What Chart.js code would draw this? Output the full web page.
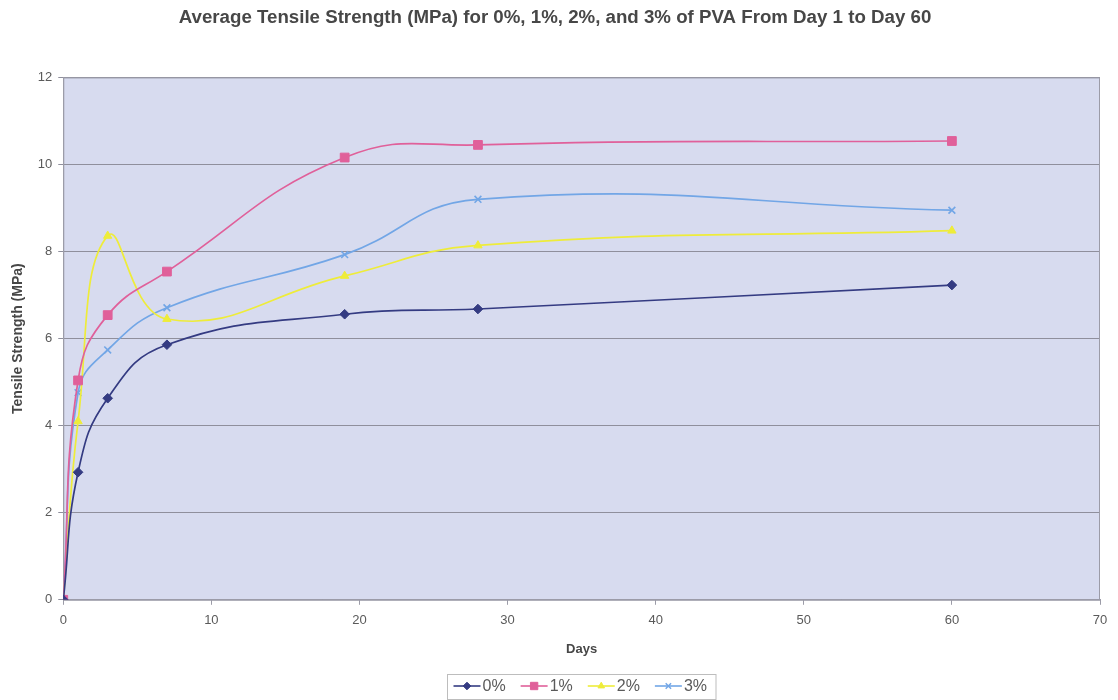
<!DOCTYPE html>
<html>
<head>
<meta charset="utf-8">
<title>Average Tensile Strength</title>
<script src="https://cdn.jsdelivr.net/npm/chart.js@4/dist/chart.umd.min.js"></script>
<style>
  html, body { margin: 0; padding: 0; background: #ffffff; }
  #wrap { width: 1118px; height: 700px; position: relative; }
</style>
</head>
<body>
<div id="wrap"><canvas id="chart" width="1118" height="700"></canvas></div>
<script>
// Curing age of the specimens, in days
const days = [0, 1, 3, 7, 19, 28, 60];

// Average tensile strength (MPa) for each PVA content
const pva0 = [0, 2.93, 4.63, 5.86, 6.56, 6.68, 7.23];
const pva1 = [0, 5.04, 6.54, 7.54, 10.16, 10.45, 10.54];
const pva2 = [0, 4.10, 8.36, 6.45, 7.44, 8.14, 8.48];
const pva3 = [0, 4.76, 5.74, 6.71, 7.93, 9.20, 8.95];

const seriesNames = ['0%', '1%', '2%', '3%'];
const xTicks = [0, 10, 20, 30, 40, 50, 60, 70];
const yTicks = [0, 2, 4, 6, 8, 10, 12];

const FONT = '"Liberation Sans", Arial, sans-serif';

const styles = [
  { color: '#343b82', point: 'rectRot', radius: 4.8 },
  { color: '#e0609a', point: 'rect', radius: 6.2 },
  { color: '#eeec3a', point: 'triangle', radius: 4.8 },
  { color: '#72a6e6', point: 'crossRot', radius: 4.8 }
];

function toPoints(vals) {
  return days.map((d, i) => ({ x: d, y: vals[i] }));
}

const datasets = [pva0, pva1, pva2, pva3].map((vals, i) => ({
  label: seriesNames[i],
  data: toPoints(vals),
  showLine: true,
  borderColor: styles[i].color,
  backgroundColor: styles[i].color,
  borderWidth: 1.7,
  pointStyle: styles[i].point,
  pointRadius: styles[i].radius,
  pointBorderWidth: styles[i].point === 'crossRot' ? 1.6 : 1,
  tension: 0.45,
  cubicInterpolationMode: 'default'
}));

// Lavender plot background and grey frame around the plot area
const plotFrame = {
  id: 'plotFrame',
  beforeDraw(chart) {
    const { ctx, chartArea: a } = chart;
    ctx.save();
    ctx.fillStyle = '#d7dbef';
    ctx.fillRect(a.left, a.top, a.right - a.left, a.bottom - a.top);
    ctx.restore();
  },
  beforeDatasetsDraw(chart) {
    const { ctx, chartArea: a } = chart;
    ctx.save();
    ctx.strokeStyle = '#9c9ca8';
    ctx.lineWidth = 1;
    ctx.strokeRect(a.left + 0.5, a.top + 0.5, a.right - a.left - 1, a.bottom - a.top);
    ctx.restore();
  }
};

// Boxed legend under the axis title: line segment with its marker, then the label
const boxedLegend = {
  id: 'boxedLegend',
  afterDraw(chart) {
    const { ctx } = chart;
    const font = '16px ' + FONT;
    ctx.save();
    ctx.font = font;
    const sampleW = 27, gap = 2, itemGap = 15, padL = 6, padR = 9;
    const widths = seriesNames.map(n => sampleW + gap + ctx.measureText(n).width);
    const total = widths.reduce((s, w) => s + w, 0) + itemGap * (seriesNames.length - 1);
    const boxW = total + padL + padR, boxH = 25;
    const cx = 581, cy = 686;
    const bx = Math.round(cx - boxW / 2) + 0.5, by = Math.round(cy - boxH / 2) + 0.5;
    ctx.strokeStyle = '#bdbdbd';
    ctx.lineWidth = 1;
    ctx.strokeRect(bx, by, boxW, boxH);
    let x = bx + padL;
    chart.data.datasets.forEach((ds, i) => {
      const st = styles[i];
      ctx.strokeStyle = st.color;
      ctx.fillStyle = st.color;
      ctx.lineWidth = 1.6;
      ctx.beginPath();
      ctx.moveTo(x, cy);
      ctx.lineTo(x + sampleW, cy);
      ctx.stroke();
      ctx.lineWidth = st.point === 'crossRot' ? 1.5 : 1;
      Chart.helpers.drawPoint(ctx, {
        pointStyle: st.point,
        radius: st.radius - 1,
        rotation: 0,
        borderWidth: ctx.lineWidth
      }, x + sampleW / 2, cy);
      ctx.fillStyle = '#5a5a5a';
      ctx.textBaseline = 'middle';
      ctx.textAlign = 'left';
      ctx.font = font;
      ctx.fillText(ds.label, x + sampleW + gap, cy + 1);
      x += widths[i] + itemGap;
    });
    ctx.restore();
  }
};

new Chart(document.getElementById('chart'), {
  type: 'scatter',
  data: { datasets },
  plugins: [plotFrame, boxedLegend],
  options: {
    responsive: false,
    animation: false,
    layout: { padding: { left: 10, right: 18, top: 4, bottom: 43 } },
    plugins: {
      legend: { display: false },
      tooltip: { enabled: false },
      title: {
        display: true,
        text: 'Average Tensile Strength (MPa) for 0%, 1%, 2%, and 3% of PVA From Day 1 to Day 60',
        color: '#474747',
        font: { family: FONT, size: 18.7, weight: 'bold' },
        padding: { top: 3, bottom: 48 }
      }
    },
    scales: {
      x: {
        type: 'linear',
        min: 0,
        max: 70,
        afterBuildTicks(axis) { axis.ticks = xTicks.map(v => ({ value: v })); },
        ticks: {
          color: '#5a5a5a',
          font: { family: FONT, size: 13 },
          padding: 8,
          maxRotation: 0
        },
        grid: { drawOnChartArea: false, color: '#9c9ca8', tickLength: 5 },
        border: { color: '#9c9ca8' },
        title: {
          display: true,
          text: 'Days',
          color: '#474747',
          font: { family: FONT, size: 13, weight: 'bold' },
          padding: { top: 5, bottom: 0 }
        }
      },
      y: {
        min: 0,
        max: 12,
        afterBuildTicks(axis) { axis.ticks = yTicks.map(v => ({ value: v })); },
        ticks: {
          color: '#5a5a5a',
          font: { family: FONT, size: 13 },
          padding: 6
        },
        grid: { color: '#8f8f9c', lineWidth: 1, tickLength: 5 },
        border: { color: '#9c9ca8' },
        title: {
          display: true,
          text: 'Tensile Strength (MPa)',
          color: '#474747',
          font: { family: FONT, size: 14, weight: 'bold' },
          padding: { top: 0, bottom: 5 }
        }
      }
    }
  }
});
</script>
</body>
</html>
